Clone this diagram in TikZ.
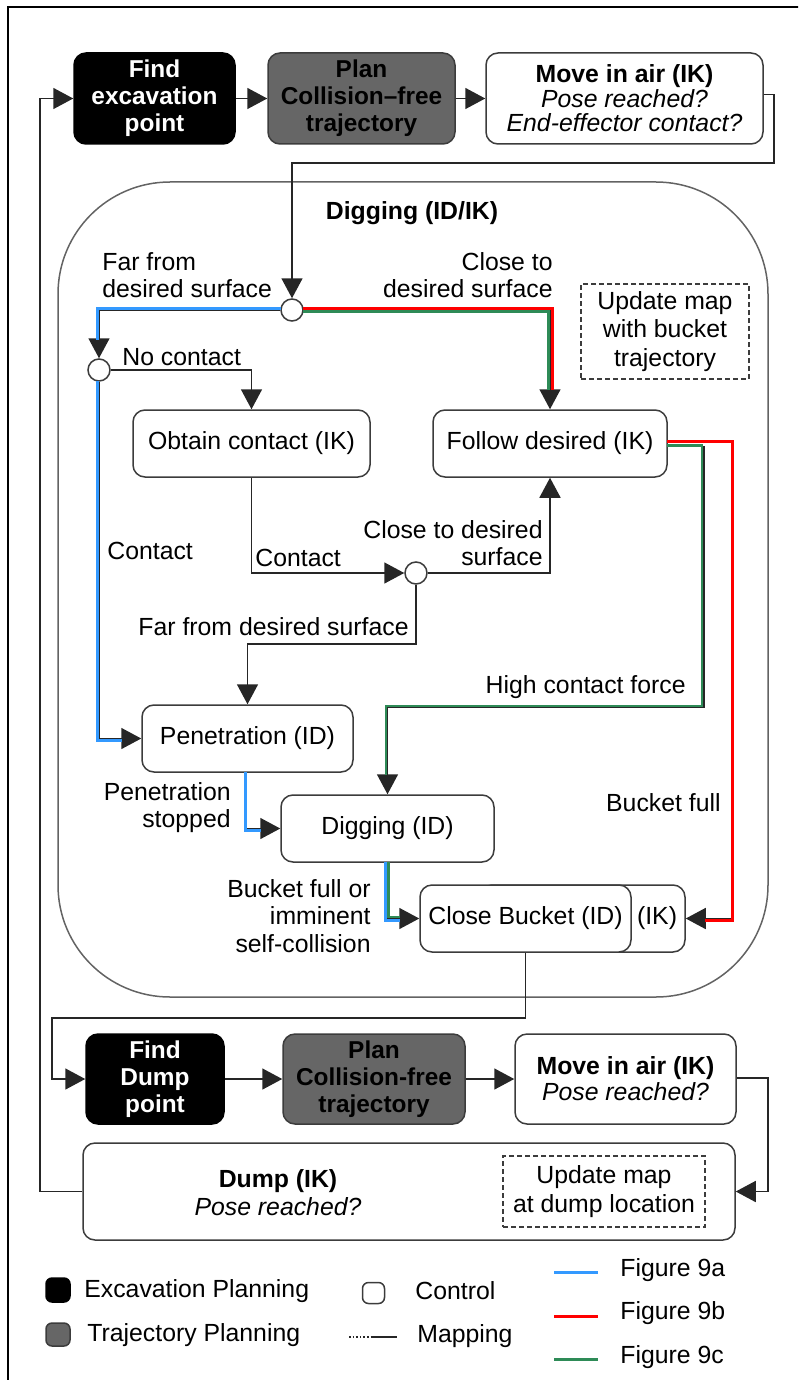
\documentclass[tikz,border=0pt]{standalone}
\usepackage{fontspec}
\setmainfont{Liberation Sans}
\usetikzlibrary{arrows.meta,calc}
\definecolor{fignine a}{RGB}{51,153,255}
\definecolor{fignine b}{RGB}{255,0,0}
\definecolor{fignine c}{RGB}{46,139,87}
\definecolor{trajgray}{RGB}{102,102,102}
\definecolor{edgegray}{RGB}{60,60,60}
\newcommand\fs{\fontsize{12.4}{13.6}\selectfont}
\newcommand\fsb{\fontsize{12.2}{13.5}\selectfont\bfseries}
\begin{document}
\begin{tikzpicture}[x=0.5pt,y=-0.5pt,
  box/.style={draw=edgegray, line width=0.75pt, rounded corners=6pt, inner sep=0pt, align=center, font=\fs},
  ctrl/.style={box, fill=white},
  excbox/.style={box, fill=black, draw=black, text=white, font=\fsb},
  trajbox/.style={box, fill=trajgray, font=\fsb},
  mapbox/.style={draw=edgegray, dash pattern={on 2.5pt off 1.5pt}, line width=0.7pt, inner sep=0pt, align=center, font=\fs},
  sz/.style 2 args={minimum width=#1*0.5pt, minimum height=#2*0.5pt},
  junc/.style={circle, draw=edgegray, fill=white, line width=0.75pt, minimum size=11pt, inner sep=0pt},
  lbl/.style={inner sep=0pt, font=\fs},
  conn/.style={draw=black!85, line width=0.8pt, -{Triangle[length=10pt,width=10.5pt]}},
  plainline/.style={draw=black!85, line width=0.8pt},
  pa/.style={draw=fignine a, line width=1.5pt},
  pb/.style={draw=fignine b, line width=1.5pt},
  pc/.style={draw=fignine c, line width=1.1pt},
]
\path[use as bounding box] (0,0) rectangle (798,1380);
\clip (0,0) rectangle (798,1380);
\draw[line width=1.2pt] (8,7) rectangle (830,1410);

% digging container
\node[draw=edgegray!80, line width=0.75pt, rounded corners=56pt, sz={710}{815}, inner sep=0pt] (digframe) at (413,589.5) {};
\node[lbl, font=\fs\bfseries] (digtitle) at (412,213) {Digging (ID/IK)};

% top row
\node[excbox, sz={161}{91}] (findexc) at (154.5,98.5) {Find\\excavation\\point};
\node[trajbox, sz={187}{91}] (plan1) at (361.5,98.5) {Plan\\Collision--free\\trajectory};
\node[ctrl, sz={277}{91}, font=\fontsize{12.4}{12.2}\selectfont] (move1) at (624.5,98.5) {{\bfseries Move in air (IK)}\\{\itshape Pose reached?}\\{\itshape End-effector contact?}};

% digging states
\node[junc] (c1) at (292,310) {};
\node[junc] (c2) at (99,370) {};
\node[junc] (c3) at (416,573) {};
\node[ctrl, sz={237}{67}] (obtain) at (251.5,443.5) {Obtain contact (IK)};
\node[ctrl, sz={234}{67}] (follow) at (550,443.5) {Follow desired (IK)};
\node[mapbox, sz={168}{95}, font=\fontsize{12.4}{14.2}\selectfont] (upd1) at (665,331.5) {Update map\\with bucket\\trajectory};
\node[ctrl, sz={211}{67}] (pen) at (247.5,738.5) {Penetration (ID)};
\node[ctrl, sz={213}{67}] (dig) at (387.5,828.5) {Digging (ID)};
\node[ctrl, sz={205}{67}, text width=94.5pt, align=right] (ik) at (582.5,918.5) {(IK)};
\node[ctrl, sz={211}{67}] (cb) at (525.5,918.5) {Close Bucket (ID)};

% bottom row
\node[excbox, sz={138}{90}] (finddump) at (155,1079) {Find\\Dump\\point};
\node[trajbox, sz={182}{90}] (plan2) at (374,1079) {Plan\\Collision-free\\trajectory};
\node[ctrl, sz={221}{90}, font=\fontsize{12.4}{13}\selectfont] (move2) at (625.5,1079) {{\bfseries Move in air (IK)}\\{\itshape Pose reached?}};
\node[ctrl, sz={652}{97}] (dump) at (409,1191.5) {};
\node[lbl, align=center, font=\fontsize{12.4}{14}\selectfont] (dumptxt) at (278,1193) {{\bfseries Dump (IK)}\\{\itshape Pose reached?}};
\node[mapbox, sz={202}{71}, font=\fontsize{12.4}{14.4}\selectfont] (upd2) at (604,1191.5) {Update map\\at dump location};

% labels
\node[lbl, anchor=west, align=left] at (102,275) {Far from\\desired surface};
\node[lbl, anchor=east, align=right] at (553,275.5) {Close to\\desired surface};
\node[lbl, anchor=west] at (122,357) {No contact};
\node[lbl, anchor=west] at (107,551) {Contact};
\node[lbl, anchor=west] at (255,558) {Contact};
\node[lbl, anchor=east, align=right] at (543,543.5) {Close to desired\\surface};
\node[lbl, anchor=east] at (409,627) {Far from desired surface};
\node[lbl, anchor=east] at (686,687) {High contact force};
\node[lbl, anchor=east] at (721,803) {Bucket full};
\node[lbl, anchor=east, align=right] at (231,807.5) {Penetration\\stopped};
\node[lbl, anchor=east, align=right] at (371,916) {Bucket full or\\imminent\\self-collision};

% connectors
\coordinate (m1turn) at (292,163);
\draw[conn] (dump.west) -- ++(-42,0) |- (findexc.west);
\draw[conn] (findexc) -- (plan1);
\draw[conn] (plan1) -- (move1);
\draw[conn] ($(move1.east)+(0,-4)$) -- ++(10,0) |- (m1turn) -- (c1);
\draw[conn] (c1.west) -| (c2.north);
\draw[conn] (c2.east) -| (obtain.north);
\draw[conn] (c2.south) |- (pen.west);
\draw[conn] (obtain.south) |- (c3.west);
\draw[conn] (c3.east) -| (follow.south);
\draw[conn] (c3.south) -- ++(0,59) -| (pen.north);
\draw[conn] (c1.east) -| (follow.north);
\draw[conn] ($(follow.east)+(0,-1)$) -- ++(64,0) |- (ik.east);
\coordinate (gturn) at (387.5,707);
\draw[conn] ($(follow.east)+(0,3)$) -- ++(36,0) |- (gturn) -- (dig.north);
\draw[conn] ($(pen.south)+(-1.5,0)$) |- (dig.west);
\draw[conn] (dig.south) |- (cb.west);
\coordinate (cbturn) at (52,1079);
\draw[conn] (cb.south) -- ++(0,65) -| (cbturn) -- (finddump.west);
\draw[conn] (finddump) -- (plan2);
\draw[conn] (plan2) -- (move2);
\draw[conn] ($(move2.east)+(0,-1)$) -- ++(31,0) |- (dump.east);

% coloured overlays
\draw[pa] (281,308.5) -- (97,308.5) -- (97,340);
\draw[pa] (97,381) -- (97,740) -- (122,740);
\draw[pa] (245,772) -- (245,830.5) -- (261,830.5);
\draw[pa] (385.5,862) -- (385.5,920) -- (400,920);
\draw[pb] (303,308.5) -- (552.5,308.5) -- (552.5,390);
\draw[pc] (303,311.5) -- (548.5,311.5) -- (548.5,390);
\draw[pb] (667,441.5) -- (732.5,441.5) -- (732.5,920) -- (705,920);
\draw[pc] (667,445.5) -- (702,445.5) -- (702,706) -- (386,706) -- (386,775);
\draw[pc] (388.5,862) -- (388.5,917) -- (400,917);

% legend
\node[excbox, sz={24}{24}, rounded corners=3pt] (lgexc) at (58,1290) {};
\node[lbl, anchor=west] (lgexct) at (84,1291) {Excavation Planning};
\node[trajbox, sz={24}{23}, rounded corners=3pt] (lgtraj) at (58,1334.5) {};
\node[lbl, anchor=west] (lgtrajt) at (87,1335) {Trajectory Planning};
\node[ctrl, sz={22}{21}, rounded corners=3pt] (lgctrl) at (373.5,1293) {};
\node[lbl, anchor=west] (lgctrlt) at (415,1291) {Control};
\coordinate (lgm1) at (349,1337);
\coordinate (lgm2) at (371,1337);
\coordinate (lgm3) at (397,1337);
\draw[plainline, densely dotted] (lgm1) -- (lgm2);
\draw[plainline] (lgm2) -- (lgm3);
\node[lbl, anchor=west] (lgmapt) at (417,1336) {Mapping};
\coordinate (la1) at (554,1272); \coordinate (la2) at (598,1272);
\coordinate (lb1) at (554,1316); \coordinate (lb2) at (598,1316);
\coordinate (lc1) at (554,1359); \coordinate (lc2) at (598,1359);
\draw[pa] (la1) -- (la2);
\draw[pb] (lb1) -- (lb2);
\draw[pc, line width=1.5pt] (lc1) -- (lc2);
\node[lbl, anchor=west] (lgat) at (620,1270) {Figure 9a};
\node[lbl, anchor=west] (lgbt) at (620,1313) {Figure 9b};
\node[lbl, anchor=west] (lgct) at (620,1357) {Figure 9c};
\end{tikzpicture}
\end{document}
